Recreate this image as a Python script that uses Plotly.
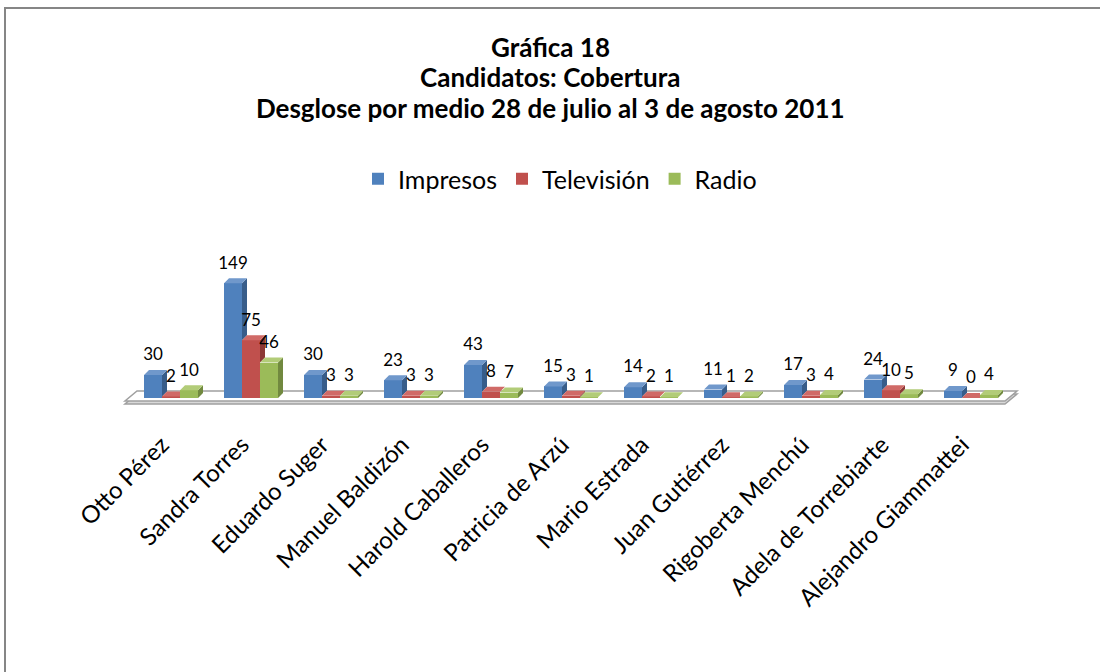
import plotly.graph_objects as go

# ---------------- data ----------------
categories = ["Otto Pérez", "Sandra Torres", "Eduardo Suger", "Manuel Baldizón",
              "Harold Caballeros", "Patricia de Arzú", "Mario Estrada",
              "Juan Gutiérrez", "Rigoberta Menchú", "Adela de Torrebiarte",
              "Alejandro Giammattei"]
impresos = [30, 149, 30, 23, 43, 15, 14, 11, 17, 24, 9]
television = [2, 75, 3, 3, 8, 3, 2, 1, 3, 10, 0]
radio = [10, 46, 3, 3, 7, 1, 1, 2, 4, 5, 4]
series_names = ["Impresos", "Televisión", "Radio"]
title_lines = ["Gráfica 18", "Candidatos: Cobertura",
               "Desglose por medio 28 de julio al 3 de agosto 2011"]

series_values = [impresos, television, radio]

# ---------------- styles / geometry ----------------
FRONT = ["#4F81BD", "#C0504D", "#9BBB59"]
SIDE = ["#385D8A", "#8C3836", "#71893F"]
TOP = ["#7098CB", "#D06A67", "#B2CC78"]
FONT = "Lato"

W, H = 1100, 672
PX_PER_CAT = 80.0
PX_PER_UNIT = 0.77
plot_l, plot_r, plot_t, plot_b = 100, 1040, 230, 410
base_px = 398
first_center = 171


def X(px):
    return (px - first_center) / PX_PER_CAT


def Y(py):
    return (base_px - py) / PX_PER_UNIT


def PXp(px):
    return (px - plot_l) / (plot_r - plot_l)


def PYp(py):
    return (plot_b - py) / (plot_b - plot_t)


x_range = [X(plot_l), X(plot_r)]
y_range = [Y(plot_b), Y(plot_t)]

bw = 18 / PX_PER_CAT
dx = 5 / PX_PER_CAT
dy = 5 / PX_PER_UNIT
offsets = [-bw, 0.0, bw]
label_lift = 19 / PX_PER_UNIT

fig = go.Figure()

# front faces (real bars)
for s, (name, vals) in enumerate(zip(series_names, series_values)):
    fig.add_trace(go.Bar(
        x=[i + offsets[s] for i in range(len(categories))],
        y=vals, width=bw, name=name,
        marker=dict(color=FRONT[s], line=dict(width=0)),
        hoverinfo="skip",
    ))

# 3D side and top faces, derived from the same values
for s, vals in enumerate(series_values):
    nxt = series_values[s + 1] if s + 1 < len(series_values) else None
    sx, sy, tx, ty = [], [], [], []
    for i, v in enumerate(vals):
        left = i + offsets[s] - bw / 2
        right = i + offsets[s] + bw / 2
        nv = nxt[i] if nxt is not None else None
        lower = 0 if nv is None else nv
        if nv is None or v > nv:
            sx += [right, right + dx, right + dx, right, right, None]
            sy += [lower, lower + dy, v + dy, v, lower, None]
        if nv is not None and nv > v:
            tx += [left, right, right, left + dx, left, None]
            ty += [v, v, v + dy, v + dy, v, None]
        else:
            tx += [left, right, right + dx, left + dx, left, None]
            ty += [v, v, v + dy, v + dy, v, None]
    fig.add_trace(go.Scatter(x=sx, y=sy, mode="lines", fill="toself",
                             fillcolor=SIDE[s], line=dict(width=0, color=SIDE[s]),
                             showlegend=False, hoverinfo="skip"))
    fig.add_trace(go.Scatter(x=tx, y=ty, mode="lines", fill="toself",
                             fillcolor=TOP[s], line=dict(width=0, color=TOP[s]),
                             showlegend=False, hoverinfo="skip"))

# data labels
for s, vals in enumerate(series_values):
    fig.add_trace(go.Scatter(
        x=[i + offsets[s] for i in range(len(categories))],
        y=[v + label_lift for v in vals],
        text=[str(v) for v in vals], mode="text", textposition="middle center",
        textfont=dict(family=FONT, size=17, color="#000000"),
        showlegend=False, hoverinfo="skip", cliponaxis=False,
    ))


# floor (decoration)
def para(p):
    return "M " + " L ".join(f"{X(a)},{Y(b)}" for a, b in p) + " Z"


floor_lower = [(125, 404), (1005, 404), (1017, 394), (137, 394)]
floor_upper = [(125, 401), (1005, 401), (1017, 391), (137, 391)]
shapes = [
    dict(type="path", path=para(floor_lower), xref="x", yref="y", layer="below",
         fillcolor="#D9D9D9", line=dict(color="#A0A0A0", width=1.5)),
    dict(type="path", path=para(floor_upper), xref="x", yref="y", layer="below",
         fillcolor="#FFFFFF", line=dict(color="#A0A0A0", width=1.5)),
    # outer chart frame (only top/left visible in the picture)
    dict(type="line", xref="paper", yref="paper", x0=PXp(5), x1=PXp(5),
         y0=PYp(7), y1=PYp(H + 20), line=dict(color="#868686", width=2)),
    dict(type="line", xref="paper", yref="paper", x0=PXp(4), x1=PXp(W + 20),
         y0=PYp(8), y1=PYp(8), line=dict(color="#868686", width=2)),
]

# title lines as annotations (precise line spacing)
title_y = [47, 77, 108]
annotations = [
    dict(text=f"<b>{t}</b>", xref="paper", yref="paper", x=PXp(550), y=PYp(py),
         xanchor="center", yanchor="middle", showarrow=False,
         font=dict(family=FONT, size=26, color="#000000"))
    for t, py in zip(title_lines, title_y)
]

fig.update_layout(
    width=W, height=H,
    margin=dict(l=plot_l, r=W - plot_r, t=plot_t, b=H - plot_b),
    paper_bgcolor="white", plot_bgcolor="white",
    barmode="overlay", bargap=0,
    legend=dict(orientation="h", xref="container", yref="container",
                x=560 / W, xanchor="center", y=1 - 179 / H, yanchor="middle",
                font=dict(family=FONT, size=25, color="#000000"),
                itemclick=False, itemdoubleclick=False),
    xaxis=dict(range=x_range, tickmode="array",
               tickvals=list(range(len(categories))), ticktext=categories,
               tickangle=-45, showgrid=False, zeroline=False, showline=False,
               ticks="", ticklabelstandoff=15, ticklabelshift=-9, automargin=False,
               tickfont=dict(family=FONT, size=24, color="#000000"),
               fixedrange=True),
    yaxis=dict(range=y_range, visible=False, fixedrange=True, automargin=False),
    shapes=shapes,
    annotations=annotations,
    showlegend=True,
)

fig.write_html("out.html", config={"displayModeBar": False},
               post_script="document.body.style.margin='0';")
